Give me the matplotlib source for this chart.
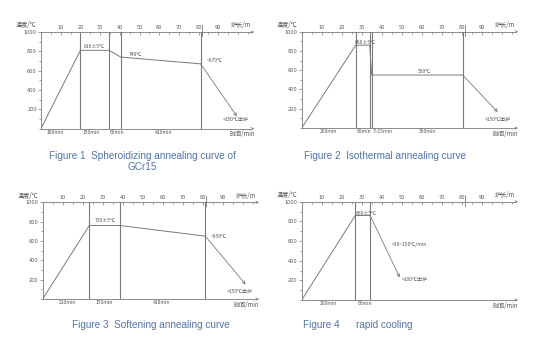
import matplotlib
matplotlib.use("Agg")
import matplotlib.pyplot as plt
from matplotlib.ticker import MultipleLocator, FixedLocator

W, H = 560, 344
fig = plt.figure(figsize=(W / 100, H / 100), dpi=100)
fig.patch.set_facecolor("white")

CJK = ["Noto Sans CJK SC", "DejaVu Sans"]
LINE = "#7a7a7a"
TXT = "#555555"
CAP = "#5274a6"

# ---------------- data ----------------
# Figure 1: spheroidizing annealing
p1_time = [0, 20, 34.5, 40.5, 81]
p1_temp = [0, 810, 810, 740, 670]
p1_end = (99.5, 125)
p1_vlines = [20, 34.5, 40.5, 81]
p1_seg_labels = ["180min", "150min", "60min", "410min"]
p1_seg_x = [7.1, 25.4, 38.6, 62]
p1_notes = ["810±5℃", "740℃", "~670℃", "<150℃出炉"]
p1_notes_xy = [(27, 845), (47.7, 772), (88, 700), (99, 98)]

# Figure 2: isothermal annealing
p2_time = [0, 27, 34, 35, 80.5]
p2_temp = [0, 860, 860, 550, 550]
p2_end = (98, 165)
p2_vlines = [27, 34, 35, 80.5]
p2_seg_labels = ["200min", "60min", "7~15min", "360min"]
p2_seg_x = [13.2, 31, 40.5, 63]
p2_notes = ["860±5℃", "550℃", "<150℃出炉"]
p2_notes_xy = [(32, 886), (61.4, 585), (98, 93)]

# Figure 3: softening annealing
p3_time = [0, 23.3, 38.6, 81.3]
p3_temp = [0, 760, 760, 650]
p3_end = (101.5, 150)
p3_vlines = [23.3, 38.6, 81.3]
p3_seg_labels = ["210min", "150min", "410min"]
p3_seg_x = [12.2, 31, 59.6]
p3_notes = ["730±5℃", "~650℃", "<150℃出炉"]
p3_notes_xy = [(31.4, 807), (88, 650), (98.4, 83)]

# Figure 4: rapid cooling
p4_time = [0, 26.8, 34.2]
p4_temp = [0, 860, 860]
p4_end = (49, 230)
p4_vlines = [26.8, 34.2]
p4_seg_labels = ["200min", "60min"]
p4_seg_x = [13.2, 31.7]
p4_notes = ["860±5℃", ">30~150℃/min", "<100℃出炉"]
p4_notes_xy = [(32.4, 878), (53.7, 560), (56.6, 214)]

top_ticks = [10, 20, 30, 40, 50, 60, 70, 80, 90]
y_ticks = [200, 400, 600, 800, 1000]
XMAX = 107

panels = [
    # x0 px, y(1000) px, y(0) px, px per unit, data...
    (41.0, 32.0, 128.5, 1.97, p1_time, p1_temp, p1_end, p1_vlines, p1_seg_labels, p1_seg_x, p1_notes, p1_notes_xy),
    (301.7, 31.7, 128.0, 2.0, p2_time, p2_temp, p2_end, p2_vlines, p2_seg_labels, p2_seg_x, p2_notes, p2_notes_xy),
    (42.7, 202.3, 299.0, 2.0, p3_time, p3_temp, p3_end, p3_vlines, p3_seg_labels, p3_seg_x, p3_notes, p3_notes_xy),
    (301.7, 201.7, 300.0, 2.0, p4_time, p4_temp, p4_end, p4_vlines, p4_seg_labels, p4_seg_x, p4_notes, p4_notes_xy),
]

FS = 3.6
for (x0, ytop, ybot, ppu, t, T, end, vl, segl, segx, notes, notes_xy) in panels:
    w = XMAX * ppu
    h = ybot - ytop
    ax = fig.add_axes([x0 / W, 1 - ybot / H, w / W, h / H])
    ax.set_xlim(0, XMAX)
    ax.set_ylim(0, 1000)
    ax.patch.set_alpha(0)
    ax.spines["right"].set_visible(False)
    for s in ["left", "top", "bottom"]:
        ax.spines[s].set_color(LINE)
        ax.spines[s].set_linewidth(0.6)
    ax.yaxis.set_major_locator(FixedLocator(y_ticks))
    ax.yaxis.set_minor_locator(MultipleLocator(100))
    ax.xaxis.set_major_locator(FixedLocator(top_ticks))
    ax.xaxis.set_minor_locator(MultipleLocator(5))
    ax.tick_params(axis="x", which="both", top=True, labeltop=True, bottom=False,
                   labelbottom=False, direction="in", color=LINE, width=0.5,
                   labelsize=FS, labelcolor=TXT, pad=1.5)
    ax.tick_params(axis="x", which="major", length=2)
    ax.tick_params(axis="x", which="minor", length=1.2)
    ax.tick_params(axis="y", which="both", direction="out", color=LINE, width=0.5,
                   labelsize=FS, labelcolor=TXT, pad=1)
    ax.tick_params(axis="y", which="major", length=2)
    ax.tick_params(axis="y", which="minor", length=1.2)
    ax.set_yticklabels([str(v) for v in y_ticks])
    ax.set_xticklabels([str(v) for v in top_ticks])

    # axis arrows
    for yy in (0, 1000):
        ax.annotate("", xy=(XMAX + 2.5, yy), xytext=(XMAX - 1, yy),
                    arrowprops=dict(arrowstyle="->", lw=0.5, color=LINE,
                                    mutation_scale=4), annotation_clip=False)
    # furnace-length mark near 81.5 m
    ax.plot([81.5, 81.5], [960, 1070], color=LINE, lw=0.6, clip_on=False)

    # vertical stage lines
    for v in vl:
        ax.plot([v, v], [0, 1000], color=LINE, lw=0.8)
    # curve
    ax.plot(t, T, color=LINE, lw=0.7)
    ax.annotate("", xy=end, xytext=(t[-1], T[-1]),
                arrowprops=dict(arrowstyle="->", lw=0.6, color=LINE,
                                mutation_scale=5, shrinkA=0, shrinkB=0),
                annotation_clip=False)

    for lab, sx in zip(segl, segx):
        ax.text(sx, -40, lab, fontsize=FS, color=TXT, ha="center", va="center",
                family=CJK, clip_on=False)
    for lab, (nx, ny) in zip(notes, notes_xy):
        ax.text(nx, ny, lab, fontsize=FS, color=TXT, ha="center", va="center",
                family=CJK, clip_on=False)
    ax.text(-7.5, 1070, "温度/℃", fontsize=4.4, color=TXT, ha="center",
            va="center", family=CJK, clip_on=False)
    ax.text(101.5, 1070, "炉长/m", fontsize=4.4, color=TXT, ha="center",
            va="center", family=CJK, clip_on=False)
    ax.text(102, -60, "时间/min", fontsize=4.4, color=TXT, ha="center",
            va="center", family=CJK, clip_on=False)

capkw = dict(fontsize=7.2, color=CAP, family=["Liberation Sans", "DejaVu Sans"],
             va="center")
fig.text(49 / W, 1 - 156 / H, "Figure 1  Spheroidizing annealing curve of", ha="left", **capkw)
fig.text(142 / W, 1 - 167.5 / H, "GCr15", ha="center", **capkw)
fig.text(304 / W, 1 - 156 / H, "Figure 2  Isothermal annealing curve", ha="left", **capkw)
fig.text(72 / W, 1 - 325 / H, "Figure 3  Softening annealing curve", ha="left", **capkw)
fig.text(303 / W, 1 - 325 / H, "Figure 4      rapid cooling", ha="left", **capkw)

fig.savefig("out.png", dpi=100, facecolor="white")
